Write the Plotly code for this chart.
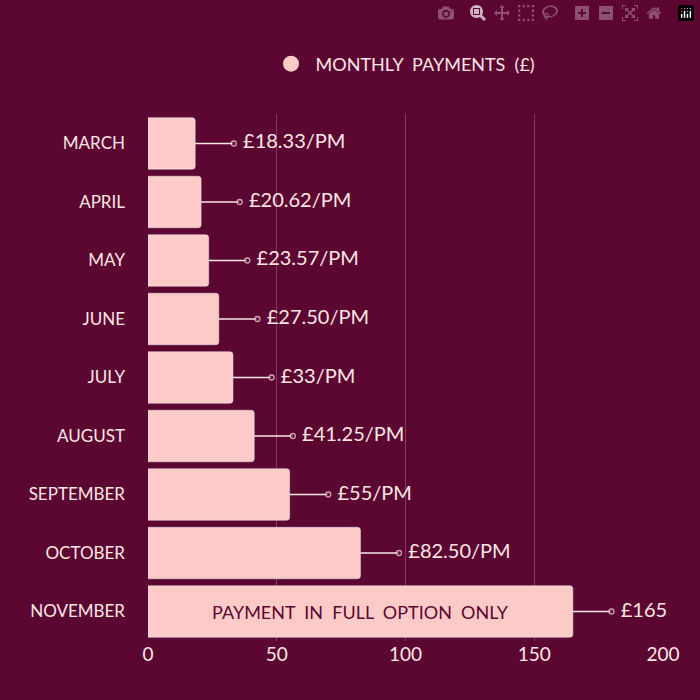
import plotly.graph_objects as go

months = ["MARCH","APRIL","MAY","JUNE","JULY","AUGUST","SEPTEMBER","OCTOBER","NOVEMBER"]
values = [18.33,20.62,23.57,27.50,33,41.25,55,82.50,165]
labels = ["£18.33/PM","£20.62/PM","£23.57/PM","£27.50/PM","£33/PM","£41.25/PM","£55/PM","£82.50/PM","£165"]
bar_text = ["","","","","","","","","PAYMENT  IN  FULL  OPTION  ONLY"]
x_ticks = [0,50,100,150,200]

BG = "#5c0632"
PINK = "#fccbc8"
TXT = "#fbe6e4"
FONT = "Lato"
lead = 15

fig = go.Figure()
fig.add_trace(go.Bar(
    y=months, x=values, orientation="h", name="",
    marker=dict(color=PINK, cornerradius=3), width=0.88,
    text=bar_text, textposition="inside", insidetextanchor="middle",
    textfont=dict(color=BG, size=18, family=FONT), showlegend=False))
fig.add_trace(go.Scatter(
    x=[None], y=[None], mode="markers", name=" MONTHLY  PAYMENTS  (£)",
    marker=dict(size=28, color=PINK, symbol="circle"), showlegend=True))
for m, v, lab in zip(months, values, labels):
    fig.add_trace(go.Scatter(
        x=[v, v + lead], y=[m, m], mode="lines+markers+text",
        line=dict(color=TXT, width=1.3),
        marker=dict(size=[0, 5], color=BG, line=dict(color=TXT, width=1.3)),
        text=["", " " + lab], textposition="middle right",
        textfont=dict(color=TXT, size=20, family=FONT),
        showlegend=False, hoverinfo="skip", cliponaxis=False))

fig.update_layout(
    width=700, height=700, paper_bgcolor=BG, plot_bgcolor=BG,
    margin=dict(l=148, r=37, t=114, b=59),
    font=dict(family=FONT, color=TXT, size=17),
    legend=dict(orientation="h", x=0.5, xanchor="center", y=1.095, yanchor="middle",
                font=dict(size=18, color=TXT)),
    xaxis=dict(range=[0, 200], tickvals=x_ticks, showgrid=True,
               gridcolor="rgba(255,220,220,0.25)", gridwidth=1, zeroline=False,
               tickfont=dict(size=19), ticks="", showline=False),
    yaxis=dict(categoryorder="array", categoryarray=months[::-1], showgrid=False,
               ticks="", ticklabelstandoff=22, tickfont=dict(size=17)),
)
fig.write_html("out.html", post_script="document.body.style.margin='0';document.body.style.background='#5c0632';")
